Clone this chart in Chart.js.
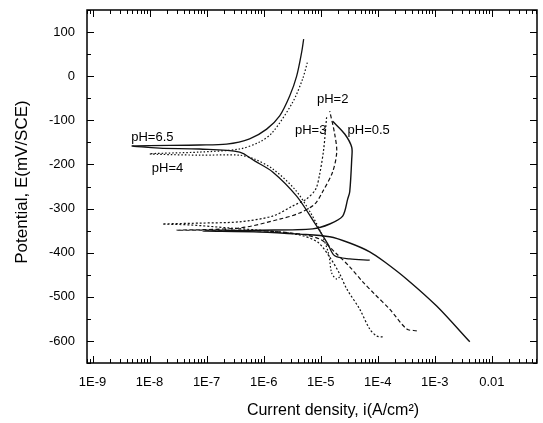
<!DOCTYPE html>
<html>
<head>
<meta charset="utf-8">
<script src="https://cdn.jsdelivr.net/npm/chart.js@4.4.1/dist/chart.umd.min.js"></script>
<style>
  html, body { margin: 0; padding: 0; background: #fff; }
  #wrap { width: 543px; height: 423px; position: relative; }
</style>
</head>
<body>
<div id="wrap"><canvas id="tafel"></canvas></div>
<script>
// axis ticks
const xTickVals = [1e-9, 1e-8, 1e-7, 1e-6, 1e-5, 1e-4, 1e-3, 1e-2];
const xTickLabels = ['1E-9', '1E-8', '1E-7', '1E-6', '1E-5', '1E-4', '1E-3', '0.01'];
const yTickVals = [-600, -500, -400, -300, -200, -100, 0, 100];

// polarization curves (current A/cm2, potential mV)
const ph65I = [7.24e-5, 3.23e-5, 1.76e-5, 1.33e-5, 8.51e-6, 3.79e-6, 1.44e-6, 6.95e-7, 3.79e-7, 7.5e-8, 1.5e-8, 5.0e-9,
  7.5e-8, 2.24e-7, 5.68e-7, 1.13e-6, 1.91e-6, 2.86e-6, 3.79e-6, 4.65e-6, 5.03e-6];
const ph65E = [-417, -414, -407, -380, -340, -272, -217, -192, -172, -165, -163, -158,
  -156, -154, -142, -120, -90, -45, 0, 55, 84];

const ph4I = [2.15e-5, 1.91e-5, 1.56e-5, 1.38e-5, 1.04e-5, 6.41e-6, 3.5e-6, 1.44e-6, 6.95e-7, 3.79e-7, 7.5e-8, 1.0e-8,
  7.5e-8, 3.79e-7, 8.5e-7, 1.44e-6, 3.23e-6, 4.83e-6, 5.92e-6];
const ph4E = [-455, -460, -446, -403, -358, -306, -256, -210, -188, -179, -179, -176,
  -172, -165, -149, -127, -59, -6, 34];

const ph3I = [1.22e-4, 9.6e-5, 7.24e-5, 4.83e-5, 2.86e-5, 2.15e-5, 1.44e-5, 8.85e-6, 4.28e-6, 1.27e-6, 2.53e-7, 5.0e-8, 1.69e-8,
  7.5e-8, 3.79e-7, 1.44e-6, 3.23e-6, 5.68e-6, 8.17e-6, 9.6e-6, 1.13e-5, 1.27e-5];
const ph3E = [-591, -589, -573, -528, -482, -448, -410, -376, -360, -351, -344, -337, -335,
  -333, -330, -317, -294, -278, -256, -222, -165, -93];

const ph2I = [4.83e-4, 3.23e-4, 1.62e-4, 8.85e-5, 5.46e-5, 3.23e-5, 1.91e-5, 9.6e-6, 2.86e-6, 3.79e-7, 2.98e-8,
  3.79e-7, 1.91e-6, 4.28e-6, 7.85e-6, 1.08e-5, 1.62e-5, 1.91e-5, 1.76e-5, 1.44e-5];
const ph2E = [-577, -573, -528, -494, -466, -432, -403, -369, -355, -349, -349,
  -344, -324, -310, -290, -262, -217, -172, -131, -79];

const ph05I = [4.11e-3, 1.08e-3, 3.23e-4, 1.33e-4, 7.24e-5, 3.23e-5, 1.44e-5, 4.28e-6, 8.5e-7, 8.5e-8,
  8.5e-7, 7.24e-6, 1.44e-5, 2.43e-5, 2.98e-5, 3.23e-5, 3.5e-5, 3.5e-5, 2.64e-5, 1.62e-5];
const ph05E = [-602, -521, -460, -421, -398, -378, -364, -358, -353, -351,
  -349, -346, -335, -317, -278, -262, -188, -161, -131, -102];

// curve labels and where they sit (data coordinates)
const labelText = ['pH=6.5', 'pH=4', 'pH=2', 'pH=3', 'pH=0.5'];
const labelI = [1.12e-8, 2.07e-8, 1.62e-5, 6.68e-6, 6.95e-5];
const labelE = [-138, -208, -52, -122, -122];

const toPoints = (xs, ys) => xs.map((v, k) => ({ x: v, y: ys[k] }));

const curve = (name, xs, ys, dash, width) => ({
  label: name,
  data: toPoints(xs, ys),
  showLine: true,
  borderColor: '#111',
  borderWidth: width,
  borderDash: dash,
  pointRadius: 0,
  tension: 0.3,
  fill: false,
});

const FONT = '"Liberation Sans", Arial, sans-serif';

// frame, inward ticks on all four sides, curve labels and axis titles
const decorations = {
  id: 'decorations',
  afterDraw(chart) {
    const { ctx, chartArea: a, scales } = chart;
    const x = scales.x, y = scales.y;
    ctx.save();
    ctx.strokeStyle = '#000';
    ctx.lineWidth = 1.5;
    ctx.strokeRect(a.left, a.top, a.right - a.left, a.bottom - a.top);

    ctx.lineWidth = 1;
    ctx.beginPath();
    for (let d = -10; d <= -1; d++) {
      for (let m = 1; m <= 9; m++) {
        const v = m * Math.pow(10, d);
        if (v < x.min || v > x.max) continue;
        const px = Math.round(x.getPixelForValue(v)) + 0.5;
        const len = m === 1 ? 7 : 4;
        ctx.moveTo(px, a.bottom); ctx.lineTo(px, a.bottom - len);
        ctx.moveTo(px, a.top); ctx.lineTo(px, a.top + len);
      }
    }
    for (let v = y.min; v <= y.max; v += 50) {
      const py = Math.round(y.getPixelForValue(v)) + 0.5;
      const len = v % 100 === 0 ? 7 : 4;
      ctx.moveTo(a.left, py); ctx.lineTo(a.left + len, py);
      ctx.moveTo(a.right, py); ctx.lineTo(a.right - len, py);
    }
    ctx.stroke();

    ctx.fillStyle = '#000';
    ctx.font = '13px ' + FONT;
    ctx.textAlign = 'center';
    ctx.textBaseline = 'middle';
    labelText.forEach((t, k) => {
      ctx.fillText(t, x.getPixelForValue(labelI[k]), y.getPixelForValue(labelE[k]));
    });

    ctx.font = '16px ' + FONT;
    ctx.fillText('Current density, i(A/cm\u00B2)', 333, 411);
    ctx.translate(22, 182);
    ctx.rotate(-Math.PI / 2);
    ctx.font = '17px ' + FONT;
    ctx.fillText('Potential, E(mV/SCE)', 0, 0);
    ctx.restore();
  }
};

new Chart(document.getElementById('tafel').getContext('2d'), {
  type: 'scatter',
  data: {
    datasets: [
      curve('pH=6.5', ph65I, ph65E, [], 1.3),
      curve('pH=4', ph4I, ph4E, [1.5, 2], 1.2),
      curve('pH=3', ph3I, ph3E, [2, 2], 1.2),
      curve('pH=2', ph2I, ph2E, [4, 2.5], 1.2),
      curve('pH=0.5', ph05I, ph05E, [], 1.4),
    ],
  },
  options: {
    responsive: true,
    maintainAspectRatio: false,
    animation: false,
    layout: { padding: { left: 0, top: 10, right: 6, bottom: 0 } },
    plugins: { legend: { display: false }, tooltip: { enabled: false } },
    scales: {
      x: {
        type: 'logarithmic',
        min: 8e-10,
        max: 0.062,
        grid: { display: false, drawTicks: false },
        border: { display: false },
        afterFit: (s) => { s.height = 60; s.paddingLeft = 0; s.paddingRight = 0; },
        afterBuildTicks: (s) => { s.ticks = xTickVals.map((v) => ({ value: v })); },
        ticks: {
          padding: 12,
          color: '#000',
          font: { family: FONT, size: 13 },
          callback: (v) => xTickLabels[xTickVals.findIndex((t) => Math.abs(t - v) / t < 1e-6)],
        },
      },
      y: {
        min: -650,
        max: 150,
        grid: { display: false, drawTicks: false },
        border: { display: false },
        afterFit: (s) => { s.width = 87; s.paddingTop = 0; s.paddingBottom = 0; },
        afterBuildTicks: (s) => { s.ticks = yTickVals.map((v) => ({ value: v })); },
        ticks: {
          padding: 12,
          color: '#000',
          font: { family: FONT, size: 13 },
        },
      },
    },
  },
  plugins: [decorations],
});
</script>
</body>
</html>
